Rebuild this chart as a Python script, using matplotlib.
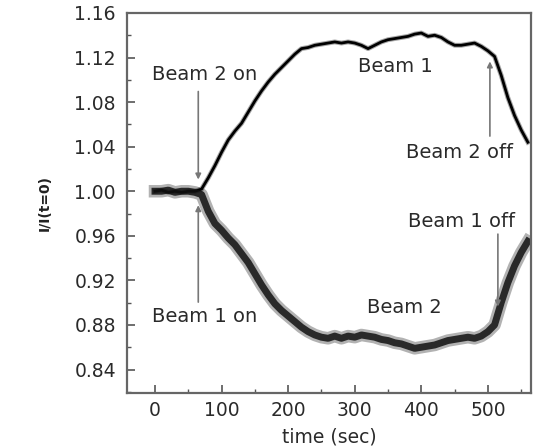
import matplotlib
matplotlib.use("Agg")
import matplotlib.pyplot as plt
import numpy as np

# time axis (sec), one point every 10 s
t = np.arange(0, 570, 10)

# Beam 1: rises once beam 2 is switched on
beam1 = [1.000, 1.001, 0.999, 1.000, 0.999, 1.000, 1.000,
         1.002, 1.012, 1.023, 1.035, 1.046, 1.054, 1.061, 1.071, 1.081,
         1.090, 1.098, 1.105, 1.111, 1.117, 1.123, 1.128, 1.129, 1.131,
         1.132, 1.133, 1.134, 1.133, 1.134, 1.133, 1.131, 1.128, 1.131,
         1.134, 1.136, 1.137, 1.138, 1.139, 1.141, 1.142, 1.139, 1.140,
         1.138, 1.134, 1.131, 1.131, 1.132, 1.133, 1.130, 1.126, 1.121,
         1.104, 1.084, 1.068, 1.055, 1.044]

# Beam 2: drops once beam 1 is switched on
beam2 = [1.000, 1.000, 1.001, 0.999, 1.000, 1.000, 0.999,
         0.997, 0.982, 0.971, 0.965, 0.958, 0.952, 0.944, 0.936, 0.926,
         0.916, 0.907, 0.899, 0.893, 0.888, 0.883, 0.878, 0.874, 0.871,
         0.869, 0.868, 0.870, 0.868, 0.870, 0.869, 0.871, 0.870, 0.869,
         0.867, 0.866, 0.864, 0.863, 0.861, 0.859, 0.860, 0.861, 0.862,
         0.864, 0.866, 0.867, 0.868, 0.869, 0.868, 0.870, 0.874, 0.880,
         0.900, 0.918, 0.933, 0.945, 0.955]

xticks = [0, 100, 200, 300, 400, 500]
yticks = [0.84, 0.88, 0.92, 0.96, 1.00, 1.04, 1.08, 1.12, 1.16]

plt.rcParams['font.family'] = ['DejaVu Sans']

fig = plt.figure(figsize=(5.36, 4.47), dpi=100)
ax = fig.add_axes([0.237, 0.121, 0.754, 0.850])

ax.plot(t, beam1, color='black', lw=3.5, alpha=0.35)
ax.plot(t, beam1, color='black', lw=2.0)
# noisy lower trace: wide soft band with a dark core
ax.plot(t, beam2, color='black', lw=9, alpha=0.3)
ax.plot(t, beam2, color='#111111', lw=5, alpha=0.85)

ax.set_xlim(-42, 565)
ax.set_ylim(0.819, 1.16)
ax.set_xticks(xticks)
ax.set_xticks(np.arange(0, 560, 50), minor=True)
ax.set_yticks(yticks)
ax.set_yticklabels(['%.2f' % v for v in yticks])
ax.set_yticks(np.arange(0.82, 1.161, 0.02), minor=True)

ax.tick_params(which='both', direction='in', colors='#555555',
               labelcolor='#2a2a2a', labelsize=13.5, top=False, right=False)
ax.tick_params(which='major', length=6, width=1.2)
ax.tick_params(which='minor', length=3, width=1)
ax.tick_params(axis='y', which='major', pad=8)
ax.tick_params(axis='x', which='major', pad=6)
for s in ax.spines.values():
    s.set_color('#666666')
    s.set_linewidth(1.6)

ax.set_xlabel('time (sec)', fontsize=13.5, color='#2a2a2a', labelpad=5)
ax.set_ylabel('I/I(t=0)', fontsize=10, color='#222222', fontweight='bold',
              labelpad=16)

arrow = dict(arrowstyle='-|>', color='#777777', lw=1.2, mutation_scale=8)
ax.annotate('', xy=(65, 1.008), xytext=(65, 1.092), arrowprops=arrow)
ax.annotate('', xy=(65, 0.990), xytext=(65, 0.898), arrowprops=arrow)
ax.annotate('', xy=(503, 1.119), xytext=(503, 1.047), arrowprops=arrow)
ax.annotate('', xy=(515, 0.894), xytext=(515, 0.964), arrowprops=arrow)

txt = dict(fontsize=14, color='#2a2a2a', ha='center', va='center')
ax.text(74, 1.105, 'Beam 2 on', **txt)
ax.text(74, 0.888, 'Beam 1 on', **txt)
ax.text(361, 1.112, 'Beam 1', **txt)
ax.text(375, 0.896, 'Beam 2', **txt)
ax.text(458, 1.035, 'Beam 2 off', **txt)
ax.text(461, 0.973, 'Beam 1 off', **txt)

fig.savefig('out.png', dpi=100)
